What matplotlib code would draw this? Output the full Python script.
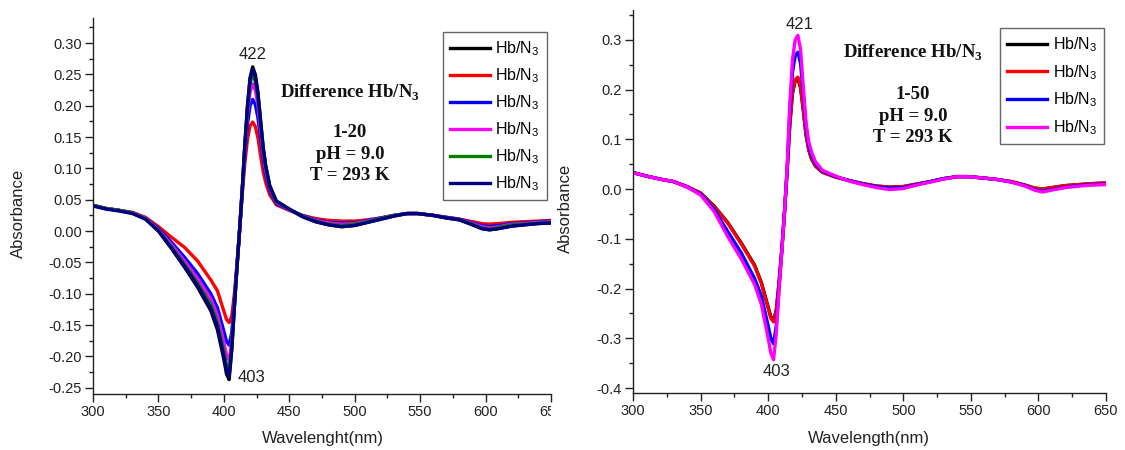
import matplotlib
matplotlib.use("Agg")
import matplotlib.pyplot as plt
from matplotlib.ticker import MultipleLocator, FormatStrFormatter
from matplotlib.transforms import Bbox, TransformedBbox

plt.rcParams['font.family'] = ['Liberation Sans', 'DejaVu Sans']
plt.rcParams['axes.unicode_minus'] = False

# Wavelength grid (nm) shared by all difference spectra
wavelength = [300, 310, 320, 330, 340, 350, 360, 370, 380, 390, 395, 400, 402, 404, 406, 408,
              410, 412, 414, 416, 418, 420, 422, 424, 426, 428, 430, 432, 435, 440, 450, 460,
              470, 480, 490, 500, 510, 520, 530, 540, 548, 560, 570, 580, 590, 597, 603, 610,
              620, 630, 640, 650]

# Hb/N3 1-20 series
a20_black = [0.041, 0.036, 0.033, 0.029, 0.020, 0.000, -0.028, -0.058, -0.090, -0.127, -0.157, -0.205, -0.228, -0.237, -0.190, -0.122,
             -0.058, 0.002, 0.066, 0.138, 0.200, 0.245, 0.262, 0.250, 0.222, 0.178, 0.134, 0.104, 0.073, 0.048, 0.035, 0.023,
             0.015, 0.010, 0.007, 0.009, 0.014, 0.019, 0.024, 0.028, 0.028, 0.025, 0.021, 0.018, 0.010, 0.004, 0.002, 0.004,
             0.008, 0.010, 0.012, 0.013]
a20_red = [0.041, 0.036, 0.033, 0.030, 0.022, 0.007, -0.010, -0.026, -0.048, -0.078, -0.095, -0.128, -0.141, -0.146, -0.136, -0.100,
           -0.052, 0.000, 0.058, 0.108, 0.146, 0.168, 0.174, 0.167, 0.149, 0.121, 0.095, 0.077, 0.058, 0.042, 0.033, 0.025,
           0.020, 0.017, 0.016, 0.016, 0.018, 0.021, 0.025, 0.028, 0.028, 0.025, 0.022, 0.019, 0.015, 0.012, 0.011, 0.012,
           0.014, 0.015, 0.016, 0.017]
a20_blue = [0.041, 0.036, 0.033, 0.029, 0.021, 0.004, -0.018, -0.042, -0.068, -0.100, -0.122, -0.160, -0.176, -0.182, -0.162, -0.110,
            -0.056, 0.001, 0.062, 0.122, 0.170, 0.200, 0.210, 0.202, 0.181, 0.148, 0.115, 0.089, 0.065, 0.044, 0.034, 0.025,
            0.018, 0.014, 0.013, 0.013, 0.017, 0.021, 0.025, 0.028, 0.028, 0.025, 0.022, 0.019, 0.013, 0.009, 0.007, 0.009,
            0.012, 0.013, 0.015, 0.016]
a20_magenta = [0.041, 0.036, 0.033, 0.029, 0.021, 0.002, -0.022, -0.048, -0.076, -0.108, -0.134, -0.178, -0.198, -0.206, -0.176, -0.116,
               -0.057, 0.002, 0.064, 0.130, 0.185, 0.222, 0.235, 0.225, 0.201, 0.162, 0.124, 0.096, 0.069, 0.046, 0.034, 0.024,
               0.017, 0.013, 0.011, 0.012, 0.016, 0.020, 0.025, 0.028, 0.028, 0.025, 0.021, 0.018, 0.012, 0.007, 0.005, 0.007,
               0.011, 0.012, 0.014, 0.015]
a20_green = [0.041, 0.036, 0.033, 0.029, 0.020, 0.001, -0.025, -0.053, -0.083, -0.117, -0.145, -0.192, -0.213, -0.222, -0.184, -0.120,
             -0.058, 0.002, 0.065, 0.135, 0.193, 0.236, 0.250, 0.239, 0.213, 0.171, 0.130, 0.100, 0.071, 0.047, 0.035, 0.024,
             0.016, 0.011, 0.009, 0.011, 0.015, 0.020, 0.025, 0.028, 0.028, 0.025, 0.021, 0.018, 0.011, 0.005, 0.003, 0.006,
             0.010, 0.011, 0.013, 0.014]
a20_navy = [0.040, 0.035, 0.032, 0.028, 0.019, 0.000, -0.027, -0.056, -0.087, -0.123, -0.152, -0.200, -0.222, -0.232, -0.188, -0.121,
            -0.058, 0.002, 0.066, 0.137, 0.198, 0.242, 0.258, 0.246, 0.219, 0.176, 0.133, 0.103, 0.072, 0.048, 0.035, 0.023,
            0.015, 0.010, 0.007, 0.009, 0.014, 0.019, 0.024, 0.028, 0.028, 0.025, 0.021, 0.018, 0.010, 0.004, 0.002, 0.004,
            0.008, 0.010, 0.012, 0.013]

# Hb/N3 1-50 series
a50_black = [0.033, 0.026, 0.020, 0.015, 0.005, -0.008, -0.034, -0.067, -0.108, -0.153, -0.188, -0.237, -0.257, -0.264, -0.243, -0.189,
             -0.124, -0.050, 0.034, 0.128, 0.192, 0.217, 0.222, 0.203, 0.158, 0.109, 0.079, 0.061, 0.046, 0.034, 0.024, 0.017,
             0.011, 0.006, 0.004, 0.005, 0.010, 0.015, 0.021, 0.025, 0.025, 0.022, 0.019, 0.015, 0.008, 0.002, 0.000, 0.003,
             0.007, 0.009, 0.011, 0.012]
a50_red = [0.033, 0.026, 0.020, 0.015, 0.005, -0.008, -0.035, -0.068, -0.110, -0.155, -0.190, -0.240, -0.260, -0.267, -0.245, -0.190,
           -0.125, -0.050, 0.035, 0.130, 0.195, 0.220, 0.225, 0.205, 0.160, 0.110, 0.080, 0.062, 0.047, 0.034, 0.024, 0.017,
           0.011, 0.006, 0.004, 0.005, 0.010, 0.015, 0.021, 0.025, 0.025, 0.022, 0.019, 0.015, 0.008, 0.002, 0.000, 0.003,
           0.007, 0.009, 0.011, 0.012]
a50_blue = [0.033, 0.026, 0.020, 0.015, 0.004, -0.010, -0.040, -0.085, -0.128, -0.180, -0.215, -0.275, -0.300, -0.311, -0.275, -0.200,
            -0.128, -0.050, 0.038, 0.155, 0.235, 0.268, 0.275, 0.252, 0.190, 0.125, 0.088, 0.069, 0.051, 0.036, 0.025, 0.017,
            0.010, 0.005, 0.002, 0.003, 0.009, 0.015, 0.021, 0.025, 0.025, 0.022, 0.019, 0.014, 0.007, -0.001, -0.004, -0.001,
            0.004, 0.007, 0.009, 0.010]
a50_magenta = [0.033, 0.026, 0.020, 0.015, 0.004, -0.012, -0.045, -0.095, -0.140, -0.192, -0.232, -0.300, -0.330, -0.343, -0.290, -0.205,
               -0.130, -0.050, 0.040, 0.170, 0.260, 0.300, 0.309, 0.280, 0.205, 0.135, 0.095, 0.075, 0.055, 0.038, 0.026, 0.016,
               0.009, 0.003, -0.001, 0.001, 0.008, 0.014, 0.020, 0.025, 0.025, 0.022, 0.019, 0.014, 0.006, -0.002, -0.006, -0.002,
               0.003, 0.006, 0.008, 0.009]

colors20 = ['#000000', '#ff0000', '#0000ff', '#ff00ff', '#008000', '#000080']
colors50 = ['#000000', '#ff0000', '#0000ff', '#ff00ff']
series20 = [a20_black, a20_red, a20_blue, a20_magenta, a20_green, a20_navy]
series50 = [a50_black, a50_red, a50_blue, a50_magenta]
label = "Hb/N$_\\mathregular{3}$"

fig = plt.figure(figsize=(11.25, 4.5), dpi=100)
ax1 = fig.add_axes([0.0827, 0.1244, 0.4071, 0.8356])
ax2 = fig.add_axes([0.5627, 0.1267, 0.4204, 0.8511])


def style_axes(ax):
    for side in ['top', 'right']:
        ax.spines[side].set_visible(False)
    for side in ['left', 'bottom']:
        ax.spines[side].set_linewidth(1.0)
        ax.spines[side].set_color('#222222')
    ax.set_xlim(300, 650)
    ax.xaxis.set_major_locator(MultipleLocator(50))
    ax.xaxis.set_minor_locator(MultipleLocator(25))
    ax.tick_params(which='major', direction='out', length=5.5, width=1.0, labelsize=10.5,
                   colors='#222222', pad=2.5)
    ax.tick_params(which='minor', direction='out', length=3, width=1.0, colors='#222222')
    ax.set_xlabel("Wavelength(nm)", fontsize=12, color='#222222')
    ax.set_ylabel("Absorbance", fontsize=12, color='#222222')


style_axes(ax1)
style_axes(ax2)

for ys, c in zip(series20, colors20):
    ax1.plot(wavelength, ys, color=c, lw=2.4, label=label, solid_joinstyle='round')
for ys, c in zip(series50, colors50):
    ax2.plot(wavelength, ys, color=c, lw=2.4, label=label, solid_joinstyle='round')

ax1.set_ylim(-0.26, 0.34)
ax1.yaxis.set_minor_locator(MultipleLocator(0.025))
ax1.yaxis.set_major_formatter(FormatStrFormatter('%.2f'))
ax1.set_yticks([-0.25, -0.2, -0.15, -0.1, -0.05, 0, 0.05, 0.1, 0.15, 0.2, 0.25, 0.3])
ax1.set_xlabel("Wavelenght(nm)", fontsize=12, color='#222222')

ax2.set_ylim(-0.41, 0.36)
ax2.yaxis.set_minor_locator(MultipleLocator(0.05))
ax2.yaxis.set_major_formatter(FormatStrFormatter('%.1f'))
ax2.set_yticks([-0.4, -0.3, -0.2, -0.1, 0, 0.1, 0.2, 0.3])

ax1.yaxis.set_label_coords(-0.146, 0.481)
ax1.xaxis.set_label_coords(0.502, -0.098)
ax2.yaxis.set_label_coords(-0.127, 0.483)
ax2.xaxis.set_label_coords(0.499, -0.099)

# peak / trough positions
ax1.text(422.1, 0.2816, "422", fontsize=12, ha='center', va='center', color='#222222')
ax1.text(421.4, -0.233, "403", fontsize=12, ha='center', va='center', color='#222222')
ax2.text(423.4, 0.331, "421", fontsize=12, ha='center', va='center', color='#222222')
ax2.text(406.4, -0.367, "403", fontsize=12, ha='center', va='center', color='#222222')

serif = dict(family=['Liberation Serif', 'DejaVu Serif'], weight='bold', fontsize=13.5,
             ha='center', va='center', color='#111111')
ax1.text(0.561, 0.800, "Difference Hb/N$_\\mathregular{3}$", transform=ax1.transAxes, **serif)
ax1.text(0.561, 0.638, "1-20\npH = 9.0\nT = 293 K", transform=ax1.transAxes, linespacing=1.36, **serif)
ax2.text(0.592, 0.888, "Difference Hb/N$_\\mathregular{3}$", transform=ax2.transAxes, **serif)
ax2.text(0.592, 0.723, "1-50\npH = 9.0\nT = 293 K", transform=ax2.transAxes, linespacing=1.36, **serif)

for ax, anchor, spacing in [(ax1, (0.991, 0.963), 0.52), (ax2, (0.996, 0.953), 0.56)]:
    leg = ax.legend(loc='upper right', bbox_to_anchor=anchor, borderaxespad=0, fontsize=11.5,
                    handlelength=2.5, handletextpad=0.35, labelspacing=spacing, fancybox=False,
                    framealpha=1, borderpad=0.45)
    leg.get_frame().set_edgecolor('#666666')
    leg.get_frame().set_linewidth(1.0)
    for h in leg.get_lines():
        h.set_linewidth(2.4)

# the left panel's last tick label is cut at the panel edge
edge = TransformedBbox(Bbox([[0, 0], [0.49, 1]]), fig.transFigure)
for lbl in ax1.get_xticklabels():
    lbl.set_clip_box(edge)
    lbl.set_clip_on(True)

fig.savefig("out.png", dpi=100)
